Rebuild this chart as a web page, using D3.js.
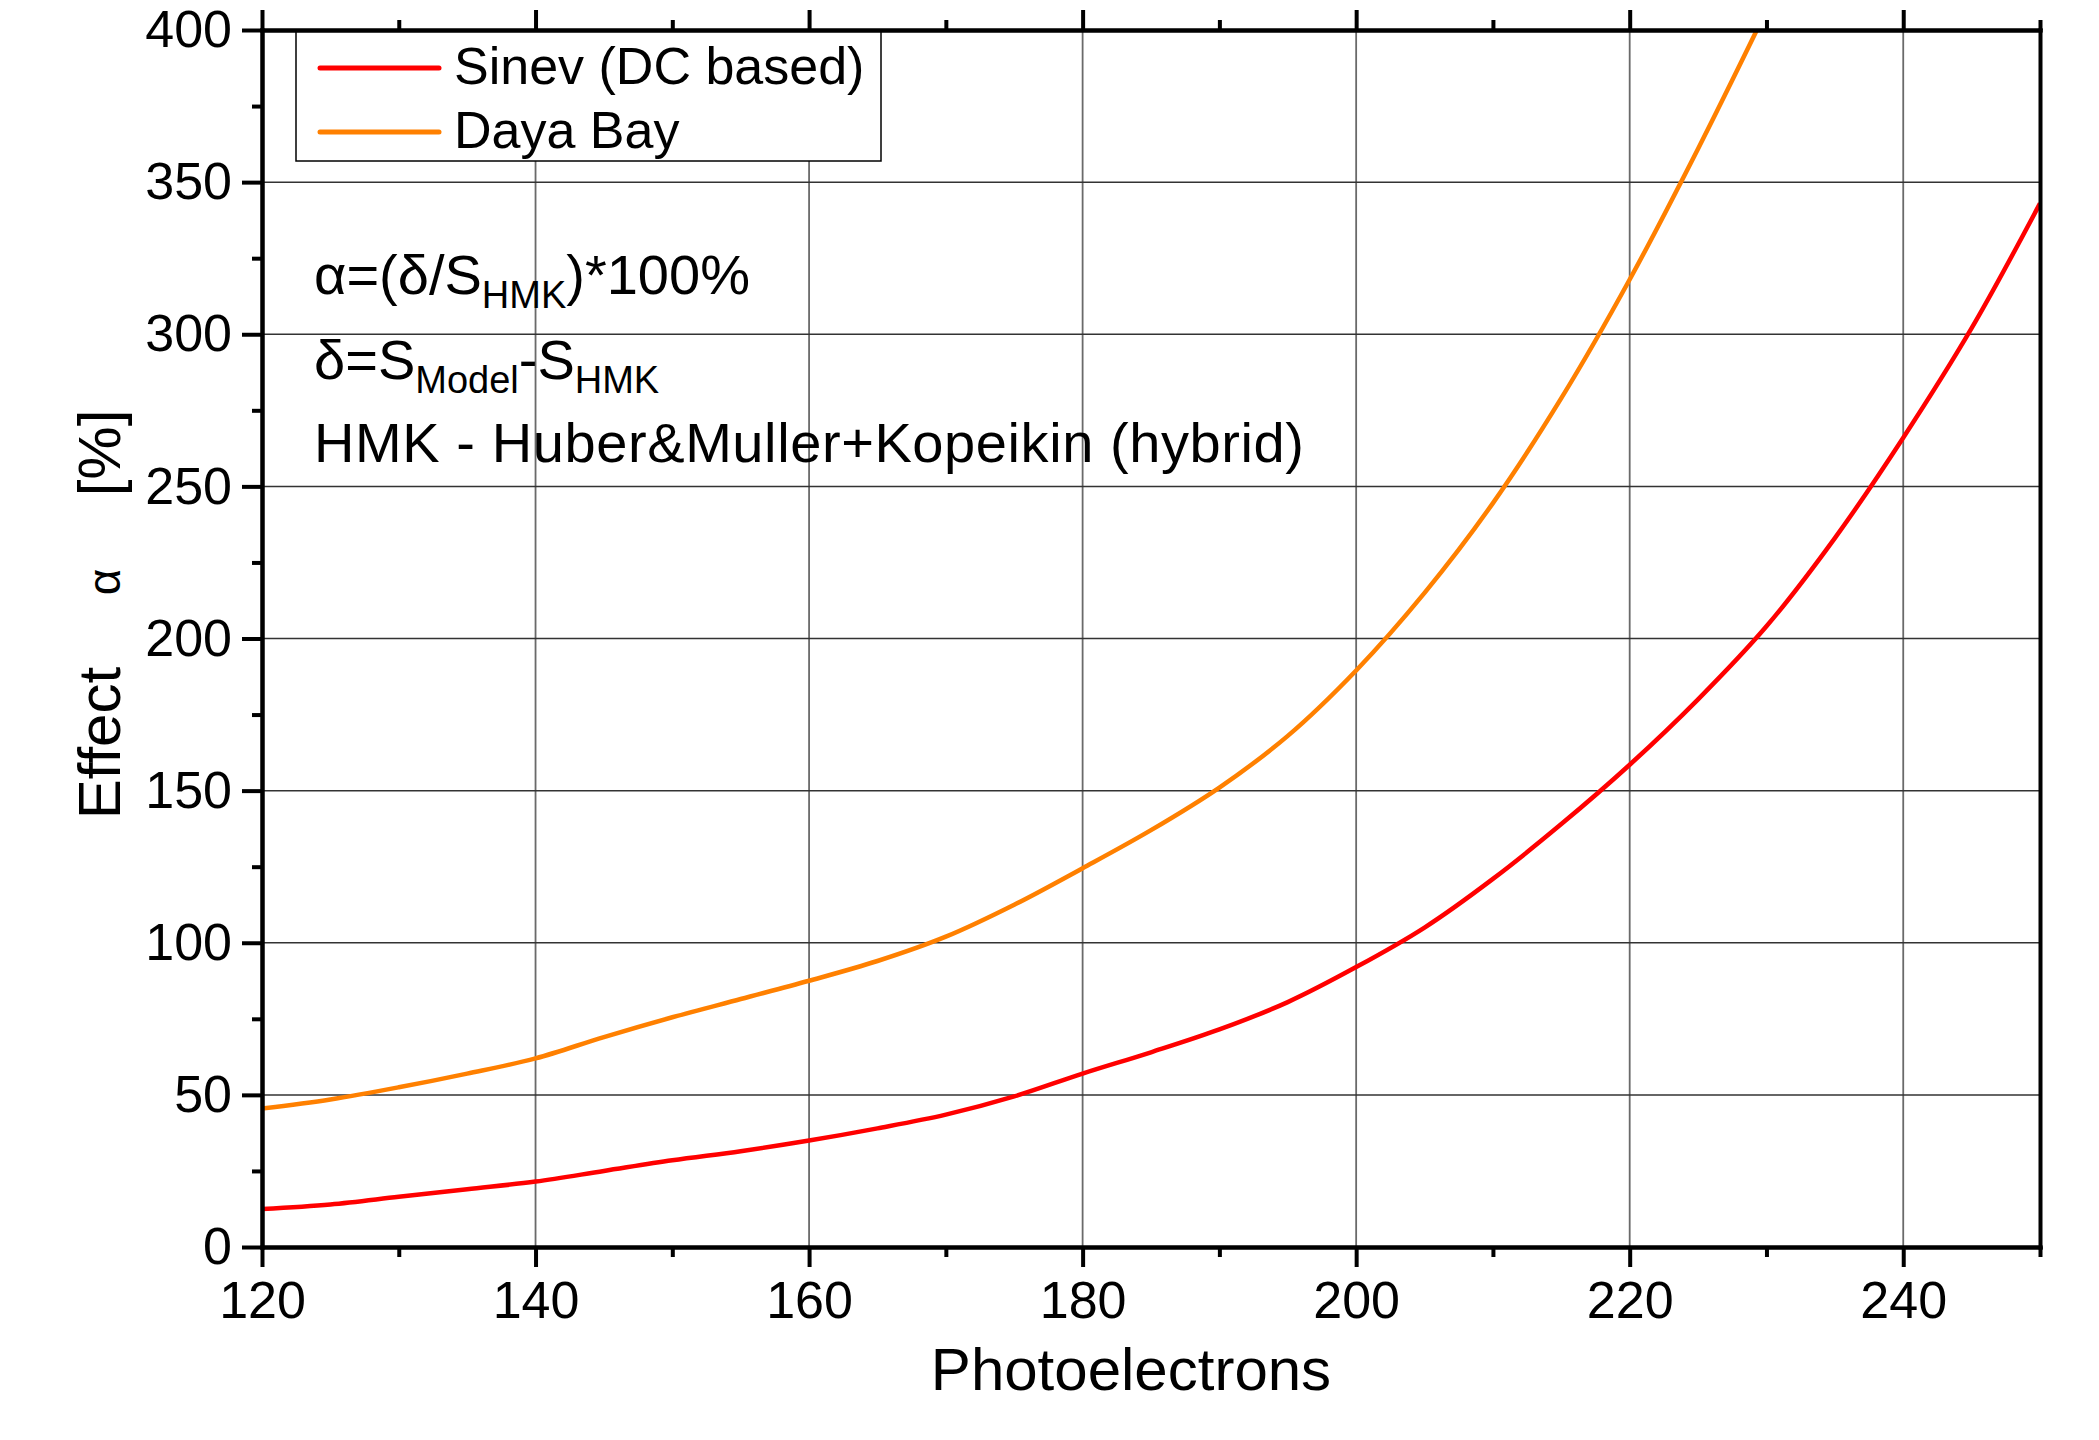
<!DOCTYPE html>
<html>
<head>
<meta charset="utf-8">
<script src="https://cdn.jsdelivr.net/npm/d3@7"></script>
<style>
  body { margin: 0; background: #fff; }
  text { font-family: "Liberation Sans", Arial, sans-serif; fill: #000; }
</style>
</head>
<body>
<svg id="chart"></svg>
<script>
// dados
var sinevX = [120,125,130,135,140,145,150,155,160,165,170,175,180,185,190,195,200,205,210,215,220,225,230,235,240,245,250];
var sinevY = [12.5,14,16.5,19,21.5,25,28.5,31.5,35,39,43.5,49.5,57,64,71.5,80.5,92,105,121,139,158.5,180,204,233,266,302,343];
var dayaX = [120,125,130,135,140,145,150,155,160,165,170,175,180,185,190,195,200,205,210,215,220,225,229.3];
var dayaY = [45.5,48.5,52.5,57,62,69,75.5,81.5,87.5,94,102,112.5,124.5,137,151,168,189.5,215,244.5,279,318,361,400];
var seriesNames = ["Sinev (DC based)", "Daya Bay"];
var seriesColors = ["#ff0000", "#ff8000"];
var xTicks = [120,140,160,180,200,220,240];
var xMinor = [130,150,170,190,210,230,250];
var yTicks = [0,50,100,150,200,250,300,350,400];
var yMinor = [25,75,125,175,225,275,325,375];

var W = 2099, H = 1440;
var mLeft = 262, mRight = 2040, mTop = 30, mBottom = 1247;

var svg = d3.select("#chart").attr("width", W).attr("height", H);

var x = d3.scaleLinear().domain([120, 250]).range([mLeft, mRight]);
var y = d3.scaleLinear().domain([0, 400]).range([mBottom, mTop]);

// grade
svg.append("g").selectAll("line").data(xTicks.slice(1)).enter().append("line")
  .attr("x1", d => x(d)).attr("x2", d => x(d))
  .attr("y1", mTop).attr("y2", mBottom)
  .attr("stroke", "#6a6a6a").attr("stroke-width", 1.8);
svg.append("g").selectAll("line").data(yTicks.slice(1, -1)).enter().append("line")
  .attr("x1", mLeft).attr("x2", mRight)
  .attr("y1", d => y(d)).attr("y2", d => y(d))
  .attr("stroke", "#333").attr("stroke-width", 1.5);

// curvas
var line = d3.line().x(d => x(d[0])).y(d => y(d[1])).curve(d3.curveCatmullRom.alpha(0.5));
svg.append("clipPath").attr("id", "clip").append("rect")
  .attr("x", mLeft).attr("y", mTop).attr("width", mRight - mLeft).attr("height", mBottom - mTop);
var curves = [d3.zip(sinevX, sinevY), d3.zip(dayaX, dayaY)];
curves.forEach(function(c, i) {
  svg.append("path").datum(c)
    .attr("clip-path", "url(#clip)")
    .attr("d", line)
    .attr("fill", "none")
    .attr("stroke", seriesColors[i])
    .attr("stroke-width", 4.5)
    .attr("stroke-linejoin", "round");
});

// eixos
svg.append("g").attr("transform", "translate(0," + mBottom + ")")
  .call(d3.axisBottom(x).tickValues(xTicks).tickSize(20).tickSizeOuter(0).tickPadding(14).tickFormat(d3.format("d")));
svg.append("g").attr("transform", "translate(0," + mBottom + ")")
  .call(d3.axisBottom(x).tickValues(xMinor).tickSize(10).tickSizeOuter(0).tickFormat(""));
svg.append("g").attr("transform", "translate(0," + mTop + ")")
  .call(d3.axisTop(x).tickValues(xTicks).tickSize(20).tickSizeOuter(0).tickFormat(""));
svg.append("g").attr("transform", "translate(0," + mTop + ")")
  .call(d3.axisTop(x).tickValues(xMinor).tickSize(10).tickSizeOuter(0).tickFormat(""));
svg.append("g").attr("transform", "translate(" + mLeft + ",0)")
  .call(d3.axisLeft(y).tickValues(yTicks).tickSize(20).tickSizeOuter(0).tickPadding(10).tickFormat(d3.format("d")));
svg.append("g").attr("transform", "translate(" + mLeft + ",0)")
  .call(d3.axisLeft(y).tickValues(yMinor).tickSize(10).tickSizeOuter(0).tickFormat(""));
svg.append("g").attr("transform", "translate(" + mRight + ",0)")
  .call(d3.axisRight(y).tickValues([]).tickSizeOuter(0));

svg.selectAll(".domain").attr("stroke", "#000").attr("stroke-width", 4).attr("stroke-linecap", "square");
svg.selectAll(".tick line").attr("stroke", "#000").attr("stroke-width", 4);
svg.selectAll(".tick text").style("font-size", "52px").attr("fill", "#000")
  .style("font-family", "'Liberation Sans', Arial, sans-serif");

// títulos dos eixos
svg.append("text").attr("x", 1131).attr("y", 1390).attr("text-anchor", "middle")
  .style("font-size", "60px").text("Photoelectrons");
var yt = [["Effect", 743, 60], ["\u03b1", 582, 46], ["[%]", 453, 60]];
yt.forEach(function(t) {
  svg.append("text").attr("transform", "translate(120," + t[1] + ") rotate(-90)")
    .attr("text-anchor", "middle").style("font-size", t[2] + "px").text(t[0]);
});

// legenda
var leg = svg.append("g");
leg.append("rect").attr("x", 296).attr("y", 32).attr("width", 585).attr("height", 129)
  .attr("fill", "#fff").attr("stroke", "#000").attr("stroke-width", 1.5);
seriesNames.forEach(function(n, i) {
  var ly = 68 + i * 64;
  leg.append("line").attr("x1", 320).attr("x2", 439).attr("y1", ly).attr("y2", ly)
    .attr("stroke", seriesColors[i]).attr("stroke-width", 5).attr("stroke-linecap", "round");
  leg.append("text").attr("x", 454).attr("y", ly + 16).style("font-size", "52px").text(n);
});

// anotações
var ann = svg.append("g").style("font-size", "56px");
var t1 = ann.append("text").attr("x", 314).attr("y", 294);
t1.append("tspan").text("\u03b1=(\u03b4/S");
t1.append("tspan").attr("dy", 14).style("font-size", "38px").text("HMK");
t1.append("tspan").attr("dy", -14).text(")*100%");
var t2 = ann.append("text").attr("x", 314).attr("y", 379);
t2.append("tspan").text("\u03b4=S");
t2.append("tspan").attr("dy", 14).style("font-size", "38px").text("Model");
t2.append("tspan").attr("dy", -14).text("-S");
t2.append("tspan").attr("dy", 14).style("font-size", "38px").text("HMK");
ann.append("text").attr("x", 314).attr("y", 462).attr("textLength", 990).text("HMK - Huber&Muller+Kopeikin (hybrid)");
</script>
</body>
</html>
